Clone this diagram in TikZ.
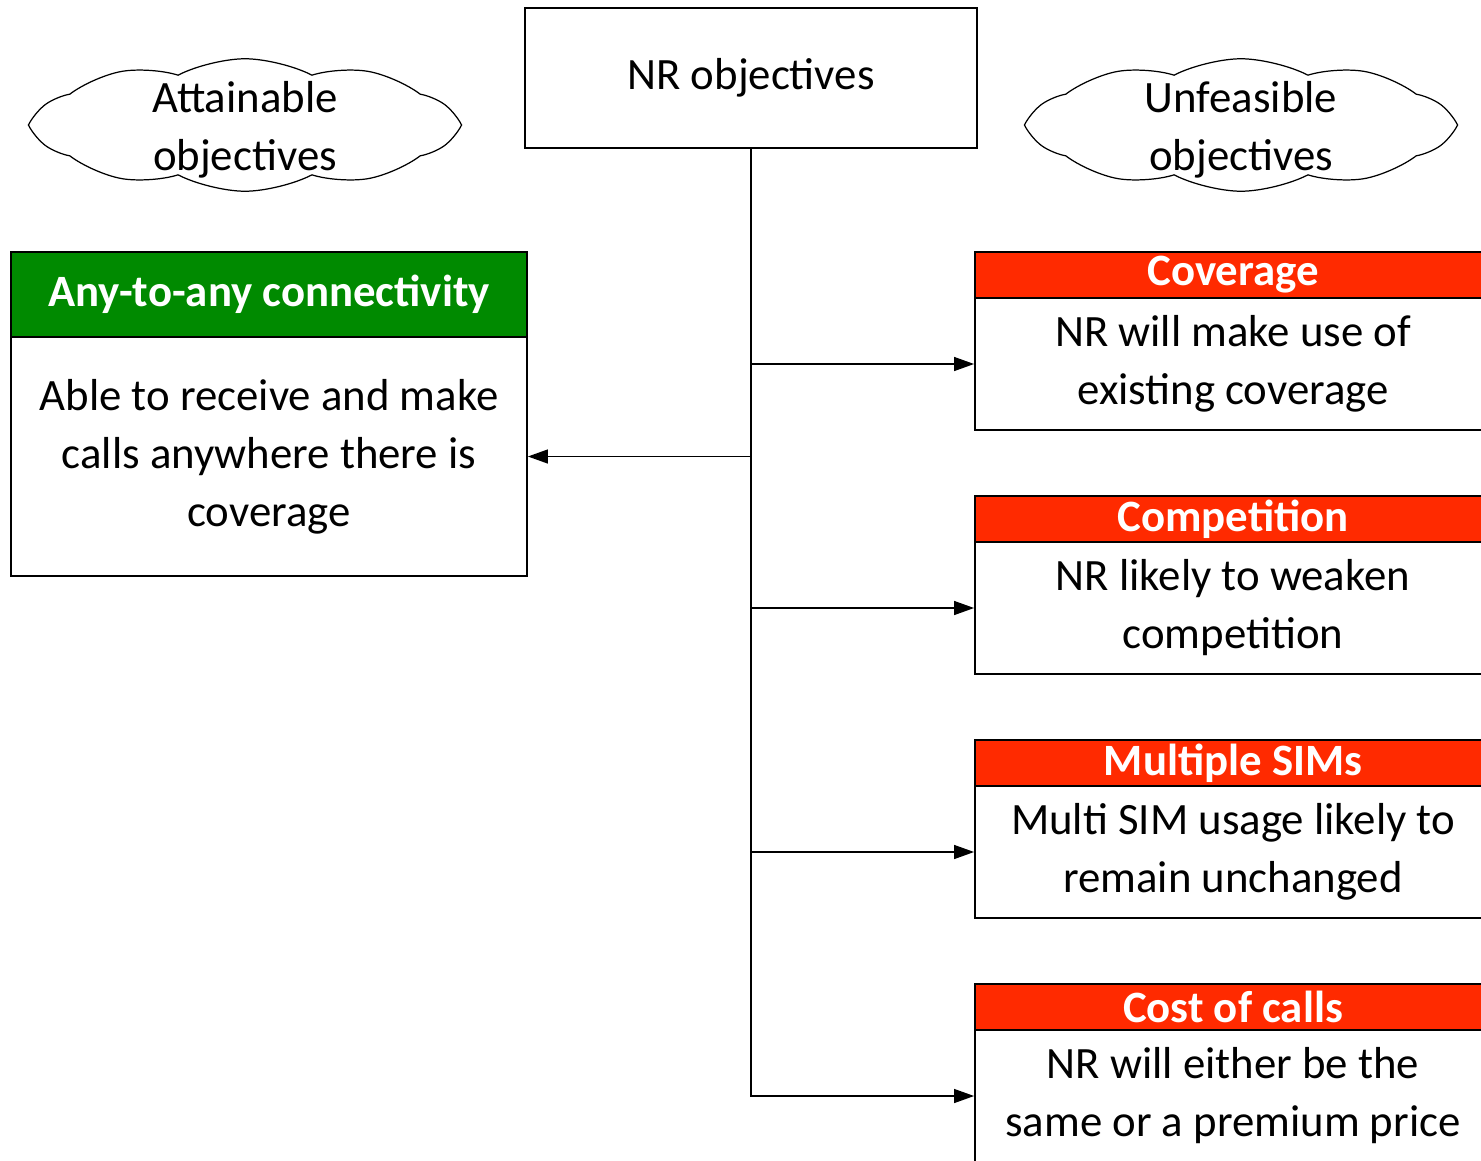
\documentclass[tikz,border=0pt]{standalone}
\usepackage{fontspec}
\setmainfont{Carlito}
\usetikzlibrary{arrows.meta,shapes.symbols}

\definecolor{goodgreen}{HTML}{008A00}
\definecolor{badred}{HTML}{FF2A00}

\begin{document}
\begin{tikzpicture}[
    x=0.02cm, y=-0.02cm,
    txt/.style={font=\fontsize{25.5}{33}\selectfont, align=center},
    box/.style={rectangle, draw, line width=1.1pt, txt, inner sep=0pt},
    headgood/.style={box, fill=goodgreen, text=white, font=\fontsize{25.5}{33}\selectfont\bfseries,
                     minimum width=10.32cm, minimum height=1.7cm},
    headbad/.style={box, fill=badred, text=white, font=\fontsize{25.5}{33}\selectfont\bfseries,
                    minimum width=10.32cm, minimum height=0.92cm},
    bodybad/.style={box, minimum width=10.32cm, minimum height=2.64cm},
    puff/.style={cloud, draw, line width=0.7pt, txt, cloud puffs=10, cloud puff arc=55,
                 cloud ignores aspect, inner xsep=-1.2cm, inner ysep=-0.9cm,
                 minimum width=8.4cm, minimum height=2.65cm},
    link/.style={line width=0.75pt, -{Triangle[length=0.4cm, width=0.28cm]}}
]
\useasboundingbox (0,0) rectangle (1481,1160);

% Top row
\node[box, line width=0.9pt, minimum width=9.04cm, minimum height=2.8cm] (nrobj) at (751,78)
    {NR objectives};
\node[puff] (attain) at (245,125) {\rule{0pt}{0.8cm}Attainable\\objectives};
\node[puff] (unfeas) at (1241,125) {\rule{0pt}{0.8cm}Unfeasible\\objectives};

% Attainable objective
\node[headgood] (anyhead) at (269,294.5) {Any-to-any connectivity};
\node[box, minimum width=10.32cm, minimum height=4.78cm] (anybody) at (269,456.5)
    {Able to receive and make\\calls anywhere there is\\coverage};

% Unfeasible objectives
\node[headbad] (covhead) at (1233,275) {Coverage};
\node[bodybad] (covbody) at (1233,364) {NR will make use of\\existing coverage};

\node[headbad] (comphead) at (1233,519) {Competition};
\node[bodybad] (compbody) at (1233,608) {NR likely to weaken\\competition};

\node[headbad] (simhead) at (1233,763) {Multiple SIMs};
\node[bodybad] (simbody) at (1233,852) {Multi SIM usage likely to\\remain unchanged};

\node[headbad] (costhead) at (1233,1007) {Cost of calls};
\node[bodybad] (costbody) at (1233,1096) {NR will either be the\\same or a premium price};

% Arrows
\draw[link] (nrobj.south) |- (anybody.east);
\draw[link] (nrobj.south) |- (covbody.west);
\draw[link] (nrobj.south) |- (compbody.west);
\draw[link] (nrobj.south) |- (simbody.west);
\draw[link] (nrobj.south) |- (costbody.west);

\end{tikzpicture}
\end{document}
